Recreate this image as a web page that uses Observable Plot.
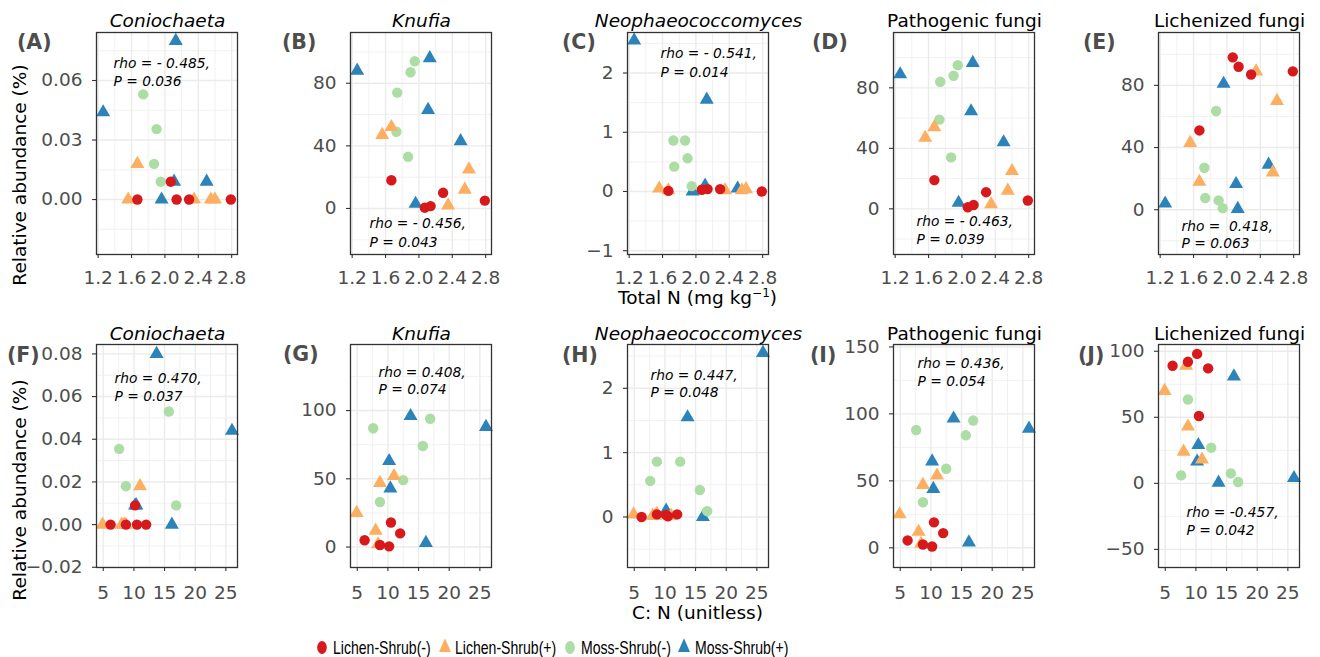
<!DOCTYPE html>
<html><head><meta charset="utf-8">
<script src="https://cdn.jsdelivr.net/npm/d3@7"></script>
<script src="https://cdn.jsdelivr.net/npm/@observablehq/plot@0.6"></script>
<style>
body{margin:0;background:#fff;}
#fig{position:relative;width:1320px;height:657px;background:#fff;font-family:"DejaVu Sans",sans-serif;overflow:hidden;}
.t{position:absolute;white-space:nowrap;line-height:1;}
</style></head><body><div id="fig"></div>
<script>
// ---------------- data ----------------
const groups = ["Lichen-Shrub(-)", "Lichen-Shrub(+)", "Moss-Shrub(-)", "Moss-Shrub(+)"];
const groupColors = ["#d7191c", "#fdae61", "#abdda4", "#2b83ba"];
const groupSymbols = ["circle", "triangle", "circle", "triangle"];

// 20 samples (drawing order: Moss-Shrub(+), Moss-Shrub(-), Lichen-Shrub(+), Lichen-Shrub(-))
const sampleGroup = [
  "Moss-Shrub(+)","Moss-Shrub(+)","Moss-Shrub(+)","Moss-Shrub(+)","Moss-Shrub(+)",
  "Moss-Shrub(-)","Moss-Shrub(-)","Moss-Shrub(-)","Moss-Shrub(-)","Moss-Shrub(-)",
  "Lichen-Shrub(+)","Lichen-Shrub(+)","Lichen-Shrub(+)","Lichen-Shrub(+)","Lichen-Shrub(+)",
  "Lichen-Shrub(-)","Lichen-Shrub(-)","Lichen-Shrub(-)","Lichen-Shrub(-)","Lichen-Shrub(-)"
];
const totalN   = [1.26, 1.96, 2.11, 2.13, 2.50,  1.73, 1.74, 1.87, 1.90, 1.95,  1.56, 1.67, 2.35, 2.55, 2.60,  1.67, 2.07, 2.14, 2.29, 2.79];
const cnRatio  = [26.0, 16.2, 10.2, 13.7, 10.4,  12.5, 15.7, 8.7, 7.6, 16.9,   8.7, 11.0, 8.4, 8.0, 4.9,     10.5, 10.2, 8.7, 12.0, 6.2];
const coniochaeta = [0.044, 0, 0.009, 0.080, 0.009,  null, 0.053, 0.018, 0.0355, 0.009,  0, 0.018, 0, 0, 0,  0, 0.009, 0, 0, 0];
const knufia      = [88, 3, 63, 96, 43,  49, 74, 33, 87, 94,  47, 52, 2, 12, 25,  18, 0.5, 1.5, 10, 5];
const neophaeo    = [2.55, 0, 0.10, 1.55, 0.05,  0.86, 0.42, 0.86, 0.56, 0.09,  0.05, 0.02, 0.02, 0.02, 0.04,  0.01, 0.03, 0.04, 0.04, 0.0];
const pathogenic  = [89, 4, 64.5, 96.5, 44,  59, 84, 34, 88, 95,  47, 54, 3, 12, 25,  19, 1, 2.5, 11, 5.5];
const lichenized  = [4, 81, 16.5, 0.5, 29,  27, 7.5, 63.5, 6, 1,  43, 18, 89, 24, 70,  51, 98, 92, 87, 89];

const taxonNames  = ["Coniochaeta", "Knufia", "Neophaeococcomyces", "Pathogenic fungi", "Lichenized fungi"];
const taxonItalic = [true, true, true, false, false];
const taxonValues = [coniochaeta, knufia, neophaeo, pathogenic, lichenized];

const panelLetters = ["(A)","(B)","(C)","(D)","(E)","(F)","(G)","(H)","(I)","(J)"];
const rhoLabels = ["rho = - 0.485,","rho = - 0.456,","rho = - 0.541,","rho = - 0.463,","rho =  0.418,",
                   "rho = 0.470,","rho = 0.408,","rho = 0.447,","rho = 0.436,","rho = -0.457,"];
const pLabels   = ["P = 0.036","P = 0.043","P = 0.014","P = 0.039","P = 0.063",
                   "P = 0.037","P = 0.074","P = 0.048","P = 0.054","P = 0.042"];

const xTicksN  = [1.2, 1.6, 2.0, 2.4, 2.8];
const xTicksCN = [5, 10, 15, 20, 25];
const yTicks = [[0,0.03,0.06],[0,40,80],[-1,0,1,2],[0,40,80],[0,40,80],
                [-0.02,0,0.02,0.04,0.06,0.08],[0,50,100],[0,1,2],[0,50,100,150],[-50,0,50,100]];
const xTitles = ["Total N (mg kg<sup>\u22121</sup>)", "C: N (unitless)"];
const yTitle = "Relative abundance (%)";

// ---------------- layout ----------------
const fig = document.getElementById("fig");
const FL = [96, 350, 627, 893, 1158], FT = [32, 344], FW = 141, FH = [222, 223];
const ML = 80, MR = 14, MT = 10, MB = 40;
const xDomains = [[1.18, 2.87], [3.9, 26.9]];
const yDomains = [[-0.0277,0.0842],[-29.4,112.4],[-1.064,2.684],[-30.2,116.6],[-28.8,114],
                  [-0.0201,0.0844],[-15,148.4],[-0.785,2.68],[-14.7,151.8],[-63.7,105.1]];
const yFormats = [".2f","","","","",".2f","","","",""];
// annotation offsets from frame top-left: [dx, dy line1, dy line2]
const annot = [[17,31,49],[19,191,210],[33,21,40],[23,189,207],[23,194,211],
               [18,34,52],[28,28,45],[23,31,48.5],[24,19,37],[28,168,186]];
const letterPos = [[17,42],[282,42],[562,42],[812,42],[1083,42],[7,355],[283,354],[562,355],[810,355],[1078,355]];
const titleY = [21, 334];

function minors(ticks, dom) {
  const s = ticks[1] - ticks[0];
  const out = [ticks[0] - s/2, ...ticks.map(t => t + s/2)];
  return out.filter(v => v > dom[0] && v < dom[1]);
}
function addText(html, x, y, css, anchor) {
  const d = document.createElement("div");
  d.className = "t";
  d.innerHTML = html;
  d.style.left = x + "px"; d.style.top = y + "px";
  const tr = anchor === "center" ? "translate(-50%,-50%)" : "translate(0,-50%)";
  d.style.transform = tr + (css.extra || "");
  for (const k in css) if (k !== "extra") d.style[k] = css[k];
  fig.appendChild(d);
  return d;
}

const samples = sampleGroup.map((g, i) => ({g, n: totalN[i], cn: cnRatio[i]}));

for (let r = 0; r < 2; r++) for (let c = 0; c < 5; c++) {
  const p = r * 5 + c;
  const vals = taxonValues[c];
  const data = samples.map((s, i) => ({group: s.g, x: r ? s.cn : s.n, y: vals[i]})).filter(d => d.y != null);
  const xt = r ? xTicksCN : xTicksN;
  const xd = xDomains[r], yd = yDomains[p], yt = yTicks[p];
  const grid = {stroke: "#ebebeb", strokeOpacity: 1};
  const chart = Plot.plot({
    width: FW + ML + MR, height: FH[r] + MT + MB,
    marginLeft: ML, marginRight: MR, marginTop: MT, marginBottom: MB,
    x: {domain: xd},
    y: {domain: yd},
    color: {domain: groups, range: groupColors},
    symbol: {domain: groups, range: groupSymbols},
    style: {fontFamily: "DejaVu Sans", fontSize: "18.5px", background: "transparent", overflow: "visible"},
    marks: [
      Plot.gridX(minors(xt, xd), {...grid, strokeWidth: 0.7}),
      Plot.gridY(minors(yt, yd), {...grid, strokeWidth: 0.7}),
      Plot.gridX(xt, {...grid, strokeWidth: 1.4}),
      Plot.gridY(yt, {...grid, strokeWidth: 1.4}),
      Plot.dot(data, {x: "x", y: "y", fill: "group", symbol: "group", r: 5.2}),
      Plot.frame({stroke: "#333333", strokeWidth: 1.3}),
      Plot.axisX(xt, {tickSize: 4, tickPadding: r ? 14 : 12, tickFormat: r ? d3.format("") : d3.format(".1f"),
                      stroke: "#333333", fill: "#4d4d4d", strokeWidth: 1.1, label: null}),
      Plot.axisY(yt, {tickSize: 4, tickPadding: 10, tickFormat: d3.format(yFormats[p]),
                      stroke: "#333333", fill: "#4d4d4d", strokeWidth: 1.1, label: null}),
      Plot.text([rhoLabels[p]], {text: d => d, frameAnchor: "top-left", dx: annot[p][0], dy: annot[p][1],
                      textAnchor: "start", lineAnchor: "middle", fontStyle: "italic", fontSize: 13.8, fill: "black"}),
      Plot.text([pLabels[p]], {text: d => d, frameAnchor: "top-left", dx: annot[p][0], dy: annot[p][2],
                      textAnchor: "start", lineAnchor: "middle", fontStyle: "italic", fontSize: 13.8, fill: "black"})
    ]
  });
  chart.style.position = "absolute";
  chart.style.left = (FL[c] - ML) + "px";
  chart.style.top = (FT[r] - MT) + "px";
  fig.appendChild(chart);

  // panel title
  addText(taxonNames[c], FL[c] + FW / 2 + 1, titleY[r],
          {fontSize: "18.5px", fontStyle: taxonItalic[c] ? "italic" : "normal", color: "#000"}, "center");
  // panel letter
  addText(panelLetters[p], letterPos[p][0], letterPos[p][1],
          {fontSize: "20.5px", fontWeight: "bold", color: "#4d4d4d"}, "left");
}

// axis titles
addText(xTitles[0], 697.5, 298, {fontSize: "18.5px", color: "#000"}, "center");
addText(xTitles[1], 697.5, 613, {fontSize: "18.5px", color: "#000"}, "center");
addText(yTitle, 19.5, 175, {fontSize: "18.5px", color: "#000", extra: " rotate(-90deg)"}, "center");
addText(yTitle, 19.5, 490, {fontSize: "18.5px", color: "#000", extra: " rotate(-90deg)"}, "center");
document.querySelectorAll("sup").forEach(s => { s.style.fontSize = "12px"; s.style.verticalAlign = "7px"; s.style.lineHeight = "0"; });

// legend
const legSym = [322, 445, 570, 684], legText = [333, 455, 581, 695], legY = 646.5;
groups.forEach((g, i) => {
  const sv = d3.create("svg").attr("width", 18).attr("height", 18)
    .style("position", "absolute").style("left", (legSym[i] - 9) + "px").style("top", (legY - 9) + "px");
  sv.append("path")
    .attr("d", d3.symbol(groupSymbols[i] === "circle" ? d3.symbolCircle : d3.symbolTriangle, groupSymbols[i] === "circle" ? 130 : 110)())
    .attr("transform", "translate(9,9.5) scale(0.75,1)")
    .attr("fill", groupColors[i]);
  fig.appendChild(sv.node());
  addText(g, legText[i], legY, {fontSize: "19px", fontFamily: "'Liberation Sans', Arial, sans-serif", color: "#000", transformOrigin: "0 50%", extra: " scaleX(0.74)"}, "left");
});
</script></body></html>
